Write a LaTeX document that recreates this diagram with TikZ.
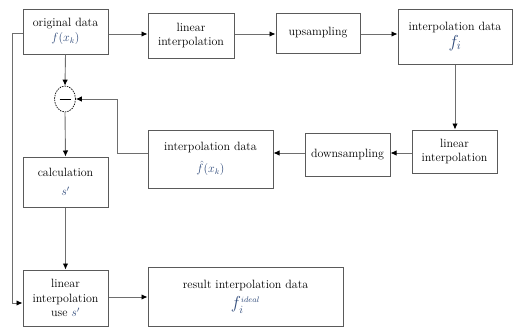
\documentclass[tikz,border=0pt]{standalone}
\usetikzlibrary{arrows.meta,shapes.geometric}
\definecolor{boxline}{HTML}{5A5A5A}
\definecolor{conn}{HTML}{6E6E6E}
\definecolor{mathc}{HTML}{2F4A7A}
\tikzset{
  blk/.style={draw=boxline, line width=1pt, fill=white, inner sep=0pt, align=center,
    font=\fontsize{12}{14.5}\selectfont},
  arr/.style={draw=conn, line width=0.9pt, -{Latex[length=6pt,width=5.5pt,color=black]}},
}
\newcommand{\mth}[1]{\textcolor{mathc}{$#1$}}
\begin{document}
\begin{tikzpicture}[x=1pt,y=-1pt]
\useasboundingbox (0,0) rectangle (513,327);
\node[blk, minimum width=85pt, minimum height=45pt] (orig) at (65.5,31.5) {original data\\[1pt]\mth{f(x_k)}};
\node[blk, minimum width=86pt, minimum height=45pt] (lin1) at (191,35.5) {linear\\interpolation};
\node[blk, minimum width=84pt, minimum height=40pt] (up) at (318,33) {upsampling};
\node[blk, minimum width=114pt, minimum height=55pt] (fi) at (455,36.5) {interpolation data\\[2pt]{\fontsize{17}{20}\selectfont\mth{f_i}}};
\node[blk, minimum width=85pt, minimum height=43pt] (lin2) at (454.5,151.5) {linear\\interpolation};
\node[blk, minimum width=85pt, minimum height=43pt] (down) at (347.5,154.5) {downsampling};
\node[blk, minimum width=125pt, minimum height=58pt] (fhat) at (210.5,159) {interpolation data\\[7pt]\mth{\hat f(x_k)}};
\node[draw=black, dash pattern=on 1.5pt off 1pt, line width=0.7pt, ellipse, minimum width=21pt, minimum height=26pt, inner sep=0pt, fill=white] (minus) at (65,99) {};
\draw[line width=0.9pt] (minus.center) ++(-5.5,0) -- ++(11,0);
\node[blk, minimum width=85pt, minimum height=50pt] (calc) at (65.5,182) {calculation\\[4pt]\mth{s'}};
\node[blk, minimum width=85pt, minimum height=56pt] (lius) at (65.5,298) {linear\\interpolation\\use \mth{s'}};
\node[blk, minimum width=195pt, minimum height=59pt] (res) at (245.5,296.5) {result interpolation data\\[6pt]{\fontsize{16}{19}\selectfont\mth{f_i^{\scriptscriptstyle ideal}}}};
% helper levels
\coordinate (yA) at (0,34);
\coordinate (yB) at (0,153);
\coordinate (yC) at (0,297);
\coordinate (c1) at (117,153);
\coordinate (c2) at (117,99);
\coordinate (l1) at (12,33);
\coordinate (l2) at (12,303);
% top row
\draw[arr] (orig.east |- yA) -- (lin1.west |- yA);
\draw[arr] (lin1.east |- yA) -- (up.west |- yA);
\draw[arr] (up.east |- yA) -- (fi.west |- yA);
\draw[arr] (fi.south) -- (fi.south |- lin2.north);
% middle row
\draw[arr] (lin2.west |- yB) -- (down.east |- yB);
\draw[arr] (down.west |- yB) -- (fhat.east |- yB);
\draw[arr] (fhat.west |- yB) -- (c1) -- (c2) -- (minus.east);
% left column
\draw[arr] (orig.south) -- (minus.north);
\draw[arr] (minus.south) -- (calc.north);
\draw[arr] (calc.south) -- (lius.north);
\draw[arr] (orig.west |- l1) -- (l1) -- (l2) -- (lius.west |- l2);
\draw[arr] (lius.east |- yC) -- (res.west |- yC);
\end{tikzpicture}
\end{document}
